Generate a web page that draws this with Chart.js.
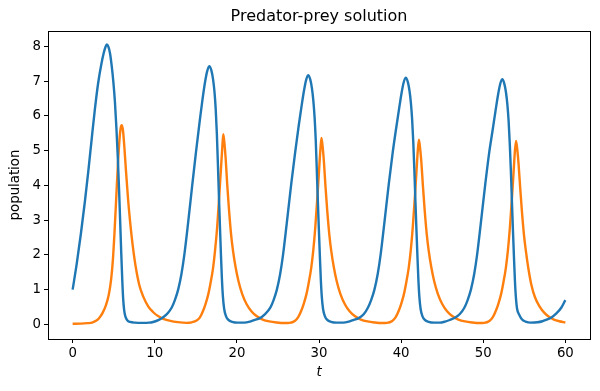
<!DOCTYPE html>
<html>
<head>
<meta charset="utf-8">
<script src="https://cdn.jsdelivr.net/npm/chart.js@4"></script>
<style>
  body { margin: 0; background: #fff; }
  canvas { display: block; }
</style>
</head>
<body>
<canvas id="lvChart" width="600" height="391"></canvas>
<script>
// prey (blue) - times and values
const preyT = [
    0, 0.5, 1.0, 1.5, 1.9, 2.3, 2.7, 3.1, 3.5, 3.8, 4.0, 4.16, 4.35, 4.55, 4.75, 4.95, 5.15, 5.33, 5.5, 5.65, 5.79, 5.92, 6.04, 6.15, 6.27, 6.42, 6.65, 7.0, 7.6, 8.5, 9.3, 9.8, 10.5, 11.1, 11.6,
    12.05, 12.45, 12.85, 13.25, 13.6, 14.05, 14.58, 15.03, 15.5, 15.83, 16.13, 16.38, 16.63, 16.9, 17.1, 17.27, 17.42, 17.56, 17.69, 17.82, 17.94, 18.06, 18.18, 18.3, 18.45, 18.67, 18.97, 19.42, 20.1, 20.9, 21.6, 22.2, 22.8, 23.4,
    24.07, 24.47, 24.87, 25.27, 25.62, 26.07, 26.62, 27.07, 27.52, 27.87, 28.17, 28.42, 28.67, 28.94, 29.14, 29.31, 29.46, 29.6, 29.73, 29.86, 29.98, 30.1, 30.22, 30.34, 30.49, 30.71, 31.01, 31.46, 32.14, 32.94, 33.64, 34.24, 34.84, 35.44,
    35.95, 36.35, 36.75, 37.15, 37.5, 37.95, 38.5, 38.95, 39.4, 39.75, 40.05, 40.3, 40.55, 40.82, 41.02, 41.19, 41.34, 41.48, 41.61, 41.74, 41.86, 41.98, 42.1, 42.22, 42.37, 42.59, 42.89, 43.34, 44.0, 44.7, 45.35, 45.95, 46.55, 47.15,
    47.7, 48.1, 48.5, 48.9, 49.25, 49.7, 50.25, 50.7, 51.15, 51.5, 51.8, 52.05, 52.3, 52.57, 52.77, 52.94, 53.09, 53.23, 53.36, 53.49, 53.61, 53.73, 53.85, 53.97, 54.12, 54.38, 54.7, 55.15, 55.8, 56.6, 57.2, 57.65, 58.3, 58.87, 59.5, 60.0
];
const prey = [
    1.0, 1.75, 2.6, 3.55, 4.39, 5.29, 6.17, 6.93, 7.49, 7.82, 7.98, 8.05, 7.99, 7.8, 7.45, 7.0, 6.4, 5.65, 4.8, 3.9, 2.95, 2.05, 1.3, 0.75, 0.42, 0.23, 0.12, 0.07, 0.05, 0.045, 0.05, 0.07, 0.13, 0.22, 0.33,
    0.48, 0.7, 1.0, 1.45, 2.0, 2.9, 4.04, 4.98, 5.9, 6.5, 6.98, 7.28, 7.43, 7.3, 7.05, 6.7, 6.2, 5.5, 4.6, 3.65, 2.8, 2.0, 1.3, 0.8, 0.45, 0.24, 0.13, 0.075, 0.05, 0.05, 0.08, 0.13, 0.18, 0.29,
    0.48, 0.7, 1.0, 1.45, 2.0, 2.9, 4.04, 4.9, 5.7, 6.27, 6.72, 7.02, 7.17, 7.04, 6.79, 6.44, 5.97, 5.32, 4.45, 3.55, 2.75, 2.0, 1.3, 0.8, 0.45, 0.24, 0.13, 0.075, 0.05, 0.05, 0.08, 0.13, 0.18, 0.29,
    0.48, 0.7, 1.0, 1.45, 2.0, 2.9, 4.04, 4.9, 5.65, 6.2, 6.65, 6.95, 7.1, 6.97, 6.72, 6.37, 5.9, 5.25, 4.45, 3.55, 2.75, 2.0, 1.3, 0.8, 0.45, 0.24, 0.13, 0.075, 0.05, 0.05, 0.08, 0.13, 0.19, 0.3,
    0.48, 0.7, 1.0, 1.45, 2.0, 2.9, 4.04, 4.9, 5.6, 6.15, 6.6, 6.9, 7.05, 6.92, 6.67, 6.32, 5.85, 5.2, 4.45, 3.55, 2.75, 2.0, 1.3, 0.8, 0.45, 0.28, 0.15, 0.08, 0.05, 0.06, 0.09, 0.13, 0.2, 0.31, 0.48, 0.7
];

// predator (orange)
const predT = [
    0, 1.0, 1.8, 2.45, 2.9, 3.26, 3.65, 4.07, 4.4, 4.68, 4.9, 5.1, 5.3, 5.5, 5.7, 5.85, 5.98, 6.12, 6.3, 6.5, 6.75, 7.0, 7.3, 7.65, 8.1, 8.6, 9.2, 9.82, 10.4, 11.04, 11.9, 12.8, 13.9,
    14.5, 15.1, 15.5, 15.9, 16.2, 16.5, 16.8, 17.1, 17.34, 17.6, 17.84, 18.04, 18.2, 18.34, 18.49, 18.64, 18.82, 19.04, 19.29, 19.54, 19.84, 20.19, 20.64, 21.19, 21.79, 22.39, 23.14, 23.94, 24.84, 25.84,
    26.4, 27.05, 27.45, 27.85, 28.15, 28.45, 28.75, 29.05, 29.3, 29.55, 29.8, 30.0, 30.16, 30.3, 30.45, 30.6, 30.78, 31.0, 31.25, 31.5, 31.8, 32.15, 32.6, 33.15, 33.75, 34.35, 35.1, 35.9, 36.8, 37.7,
    38.27, 38.92, 39.32, 39.72, 40.02, 40.32, 40.62, 40.92, 41.17, 41.42, 41.67, 41.87, 42.03, 42.17, 42.32, 42.47, 42.65, 42.87, 43.12, 43.37, 43.67, 44.02, 44.47, 45.02, 45.62, 46.22, 46.97, 47.77, 48.67, 49.57,
    50.1, 50.75, 51.15, 51.55, 51.85, 52.15, 52.45, 52.75, 53.0, 53.25, 53.5, 53.7, 53.86, 54.0, 54.15, 54.3, 54.48, 54.7, 54.95, 55.2, 55.5, 55.85, 56.3, 56.85, 57.45, 58.05, 58.6, 59.27, 60.0
];
const pred = [
    0.02, 0.022, 0.035, 0.06, 0.11, 0.19, 0.33, 0.56, 0.85, 1.28, 1.85, 2.65, 3.6, 4.55, 5.3, 5.65, 5.73, 5.6, 5.1, 4.4, 3.6, 2.95, 2.3, 1.7, 1.15, 0.8, 0.52, 0.35, 0.24, 0.16, 0.1, 0.065, 0.045,
    0.06, 0.11, 0.2, 0.4, 0.6, 0.85, 1.2, 1.62, 2.12, 2.8, 3.65, 4.4, 5.0, 5.47, 5.2, 4.75, 4.04, 3.3, 2.6, 2.1, 1.65, 1.25, 0.88, 0.58, 0.37, 0.24, 0.14, 0.085, 0.055, 0.04,
    0.045, 0.1, 0.2, 0.4, 0.6, 0.85, 1.2, 1.62, 2.12, 2.8, 3.65, 4.4, 5.0, 5.36, 5.1, 4.68, 4.0, 3.28, 2.6, 2.1, 1.65, 1.25, 0.88, 0.58, 0.37, 0.24, 0.14, 0.085, 0.055, 0.04,
    0.045, 0.1, 0.2, 0.4, 0.6, 0.85, 1.2, 1.62, 2.12, 2.8, 3.65, 4.4, 5.0, 5.31, 5.05, 4.65, 4.0, 3.28, 2.6, 2.1, 1.65, 1.25, 0.88, 0.58, 0.37, 0.24, 0.14, 0.085, 0.055, 0.04,
    0.045, 0.1, 0.2, 0.4, 0.6, 0.85, 1.2, 1.62, 2.12, 2.8, 3.65, 4.4, 5.0, 5.28, 5.02, 4.62, 4.0, 3.28, 2.6, 2.1, 1.6, 1.15, 0.78, 0.52, 0.33, 0.21, 0.14, 0.09, 0.055
];

const xTicks = [0, 10, 20, 30, 40, 50, 60];
const yTicks = [0, 1, 2, 3, 4, 5, 6, 7, 8];

const FONT = 'DejaVu Sans';
const TITLE = 'Predator-prey solution';

// matplotlib-style full box, plus the title centred over the axes
const frameBox = {
    id: 'frameBox',
    afterDraw(chart) {
        const { ctx, chartArea: a } = chart;
        ctx.save();
        ctx.strokeStyle = '#000';
        ctx.lineWidth = 1;
        ctx.strokeRect(Math.round(a.left) + 0.5, Math.round(a.top) + 0.5,
            Math.round(a.right - a.left), Math.round(a.bottom - a.top));
        ctx.fillStyle = '#000';
        ctx.font = `16px "${FONT}"`;
        ctx.textAlign = 'center';
        ctx.textBaseline = 'middle';
        ctx.fillText(TITLE, (a.left + a.right) / 2, 17);
        ctx.restore();
    }
};

function toPoints(ts, vs) {
    return ts.map((t, i) => ({ x: t, y: vs[i] }));
}

new Chart(document.getElementById('lvChart').getContext('2d'), {
    type: 'line',
    data: {
        datasets: [{
            label: 'prey',
            data: toPoints(preyT, prey),
            borderColor: '#1f77b4',
            borderWidth: 2.4,
            pointRadius: 0,
            cubicInterpolationMode: 'monotone',
            fill: false
        }, {
            label: 'predator',
            data: toPoints(predT, pred),
            borderColor: '#ff7f0e',
            borderWidth: 2.4,
            pointRadius: 0,
            cubicInterpolationMode: 'monotone',
            fill: false
        }]
    },
    options: {
        responsive: false,
        animation: false,
        devicePixelRatio: 1,
        layout: { padding: { left: 0, right: 10, top: 31, bottom: 0 } },
        plugins: {
            legend: { display: false },
            tooltip: { enabled: false },
            title: { display: false }
        },
        scales: {
            x: {
                type: 'linear',
                min: -3,
                max: 63,
                afterBuildTicks: (scale) => { scale.ticks = xTicks.map(v => ({ value: v })); },
                afterFit: (scale) => { scale.height = 52; },
                ticks: { color: '#000', font: { family: FONT, size: 13.3 }, padding: 3, maxRotation: 0 },
                grid: { drawOnChartArea: false, tickLength: 4, color: '#000' },
                border: { color: '#000' },
                title: {
                    display: true,
                    text: 't',
                    color: '#000',
                    font: { family: FONT, size: 13.3, style: 'italic' },
                    padding: { top: 0, bottom: 10 }
                }
            },
            y: {
                min: -0.42,
                max: 8.44,
                afterBuildTicks: (scale) => { scale.ticks = yTicks.map(v => ({ value: v })); },
                afterFit: (scale) => { scale.width = 48; },
                ticks: { color: '#000', font: { family: FONT, size: 13.3 }, padding: 3 },
                grid: { drawOnChartArea: false, tickLength: 4, color: '#000' },
                border: { color: '#000' },
                title: {
                    display: true,
                    text: 'population',
                    color: '#000',
                    font: { family: FONT, size: 13.3 },
                    padding: { top: 8, bottom: 0 }
                }
            }
        }
    },
    plugins: [frameBox]
});
</script>
</body>
</html>
